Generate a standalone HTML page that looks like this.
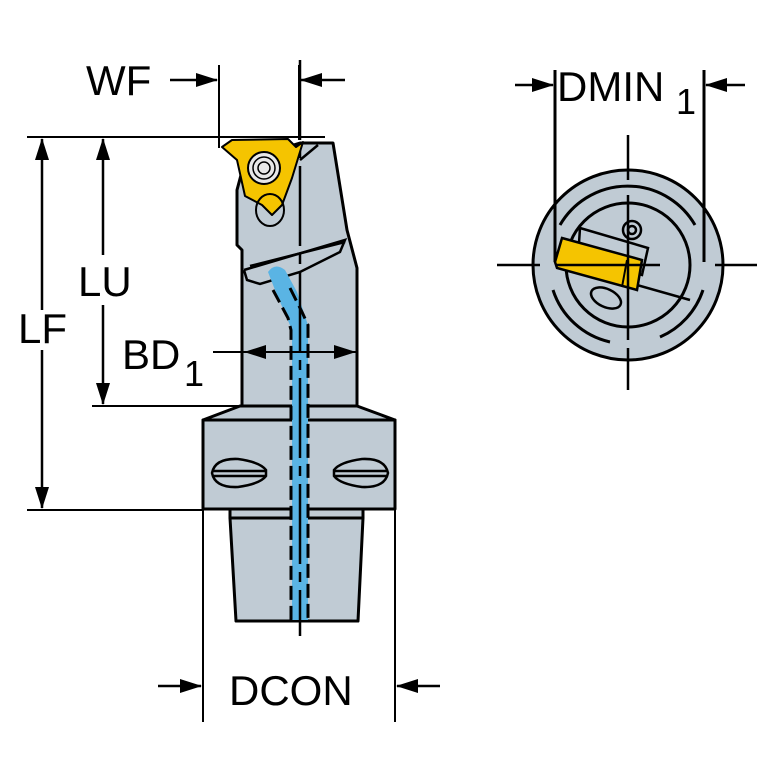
<!DOCTYPE html>
<html><head><meta charset="utf-8"><style>
html,body{margin:0;padding:0;background:#fff}
svg{display:block}
text{font-family:"Liberation Sans",Arial,sans-serif;fill:#000}
</style></head><body>
<svg width="767" height="767" viewBox="0 0 767 767" xmlns="http://www.w3.org/2000/svg">
<defs>
<marker id="ar" markerWidth="22" markerHeight="16" refX="21" refY="8" orient="auto" markerUnits="userSpaceOnUse"><path d="M0,1 L22,8 L0,15 z" fill="#000"/></marker>
</defs>
<g stroke="#000" stroke-width="2" fill="none">
<line x1="27" y1="137" x2="325" y2="137"/>
<line x1="219" y1="65" x2="219" y2="148"/>
<line x1="299" y1="65" x2="299" y2="140"/>
<line x1="92" y1="406" x2="240" y2="406"/>
<line x1="27" y1="510" x2="203" y2="510"/>
<line x1="203" y1="510" x2="203" y2="722"/>
<line x1="395" y1="510" x2="395" y2="722"/>
</g>
<g stroke="#000" stroke-width="2.5">
<line x1="170" y1="80" x2="217" y2="80" marker-end="url(#ar)"/>
<line x1="345" y1="80" x2="301" y2="80" marker-end="url(#ar)"/>
<line x1="42" y1="310" x2="42" y2="139" marker-end="url(#ar)"/>
<line x1="42" y1="350" x2="42" y2="508" marker-end="url(#ar)"/>
<line x1="103" y1="255" x2="103" y2="139" marker-end="url(#ar)"/>
<line x1="103" y1="305" x2="103" y2="404" marker-end="url(#ar)"/>
<line x1="158" y1="686" x2="201" y2="686" marker-end="url(#ar)"/>
<line x1="440" y1="686" x2="397" y2="686" marker-end="url(#ar)"/>
<line x1="515" y1="85" x2="553" y2="85" marker-end="url(#ar)"/>
<line x1="745" y1="85" x2="706" y2="85" marker-end="url(#ar)"/>
</g>
<g stroke="#000" stroke-width="3" fill="#c0cbd4" stroke-linejoin="round">
<polygon points="203,420 240,406 357,406 395,420"/>
<rect x="203" y="420" width="192" height="89"/>
<polygon points="230,509 363,509 363,518 358,621 236,621 230,518"/>
<line x1="230" y1="518" x2="363" y2="518"/>
<polygon points="242,406 242,250 237,245 237,190 245,160 300,143 333,143 347,230 357,268 357,406"/>
</g>
<g stroke="#000" stroke-width="2.5" fill="none">
<polyline points="244,270 345,240 340,252 300,272 260,284 247,280 244,270"/>
<line x1="250" y1="266" x2="345" y2="242"/>
<line x1="300" y1="160" x2="318" y2="145"/>
</g>
<g stroke="#000" stroke-width="2.5" fill="#c0cbd4">
<path d="M212,473 Q215,458 238,459 Q260,462 266,470 L266,476 Q260,484 238,487 Q215,488 212,473z"/>
<line x1="212" y1="471" x2="266" y2="471"/><line x1="212" y1="476" x2="266" y2="476"/>
<path d="M388,473 Q385,458 362,459 Q340,462 334,470 L334,476 Q340,484 362,487 Q385,488 388,473z"/>
<line x1="334" y1="471" x2="388" y2="471"/><line x1="334" y1="476" x2="388" y2="476"/>
</g>
<path d="M268,272 Q275,262 285,270 L297,292 L308,325 L308,620 L292,620 L292,330 L275,290 Z" fill="#5ab4e4"/>
<g stroke="#000" stroke-width="3" stroke-dasharray="14,6" fill="none">
<path d="M273,290 L288,318 L291,330 L291,620"/>
<path d="M290,288 L302,312 L308,325 L308,620"/>
</g>
<line x1="300" y1="60" x2="300" y2="636" stroke="#000" stroke-width="2.5" stroke-dasharray="80,8,10,8"/>
<line x1="213" y1="352" x2="357" y2="352" stroke="#000" stroke-width="2"/>
<path d="M244,352 L266,345 L266,359z M356,352 L334,345 L334,359z" fill="#000"/>
<polygon points="222,147 232,140 288,139 296,147 303,142 292,178 282,205 272,215 262,205 245,196 237,160" fill="#f5c400" stroke="#000" stroke-width="2" stroke-linejoin="round"/>
<circle cx="264" cy="168" r="16" fill="#e8e8e8" stroke="#000" stroke-width="2"/>
<circle cx="264" cy="168" r="11" fill="none" stroke="#000" stroke-width="1.5"/>
<circle cx="264" cy="168" r="6" fill="none" stroke="#000" stroke-width="1.5"/>
<ellipse cx="270" cy="210" rx="14" ry="16" fill="none" stroke="#000" stroke-width="2"/>
<circle cx="628" cy="265" r="95" fill="#c0cbd4" stroke="#000" stroke-width="3"/>
<g stroke="#000" stroke-width="3" fill="none">
<path d="M560,225 A78,78 0 0 1 695,225"/>
<path d="M703,290 A78,78 0 0 1 660,337"/>
<path d="M610,342 A78,78 0 0 1 553,290"/>
<circle cx="628" cy="265" r="62"/>
<line x1="555" y1="70" x2="555" y2="262"/>
<line x1="704" y1="70" x2="704" y2="262"/>
</g>
<g stroke="#000" stroke-width="2.5" fill="#c0cbd4">
<polygon points="580,228 648,248 642,275 578,258"/>
<line x1="630" y1="283" x2="690" y2="300"/>
<ellipse cx="606" cy="298" rx="16" ry="9" transform="rotate(25 606 298)"/>
<circle cx="632" cy="230" r="9"/>
<circle cx="632" cy="230" r="4"/>
</g>
<polygon points="562,238 642,260 637,290 557,268 555,262" fill="#f5c400" stroke="#000" stroke-width="2.5"/>
<line x1="627" y1="260" x2="622" y2="287" stroke="#000" stroke-width="2"/>
<g stroke="#000" stroke-width="2.5">
<line x1="497" y1="265" x2="540" y2="265"/>
<line x1="555" y1="265" x2="660" y2="265"/>
<line x1="715" y1="265" x2="757" y2="265"/>
<line x1="628" y1="135" x2="628" y2="180"/>
<line x1="628" y1="195" x2="628" y2="340"/>
<line x1="628" y1="348" x2="628" y2="390"/>
</g>
<text x="86" y="95" font-size="42">WF</text>
<text x="18" y="343" font-size="42">LF</text>
<text x="78" y="296" font-size="42">LU</text>
<text x="122" y="369" font-size="42">BD</text>
<text x="184" y="386" font-size="36">1</text>
<text x="229" y="705" font-size="42">DCON</text>
<text x="557" y="101" font-size="42">DMIN</text>
<text x="676" y="114" font-size="36">1</text>
</svg>
</body></html>
